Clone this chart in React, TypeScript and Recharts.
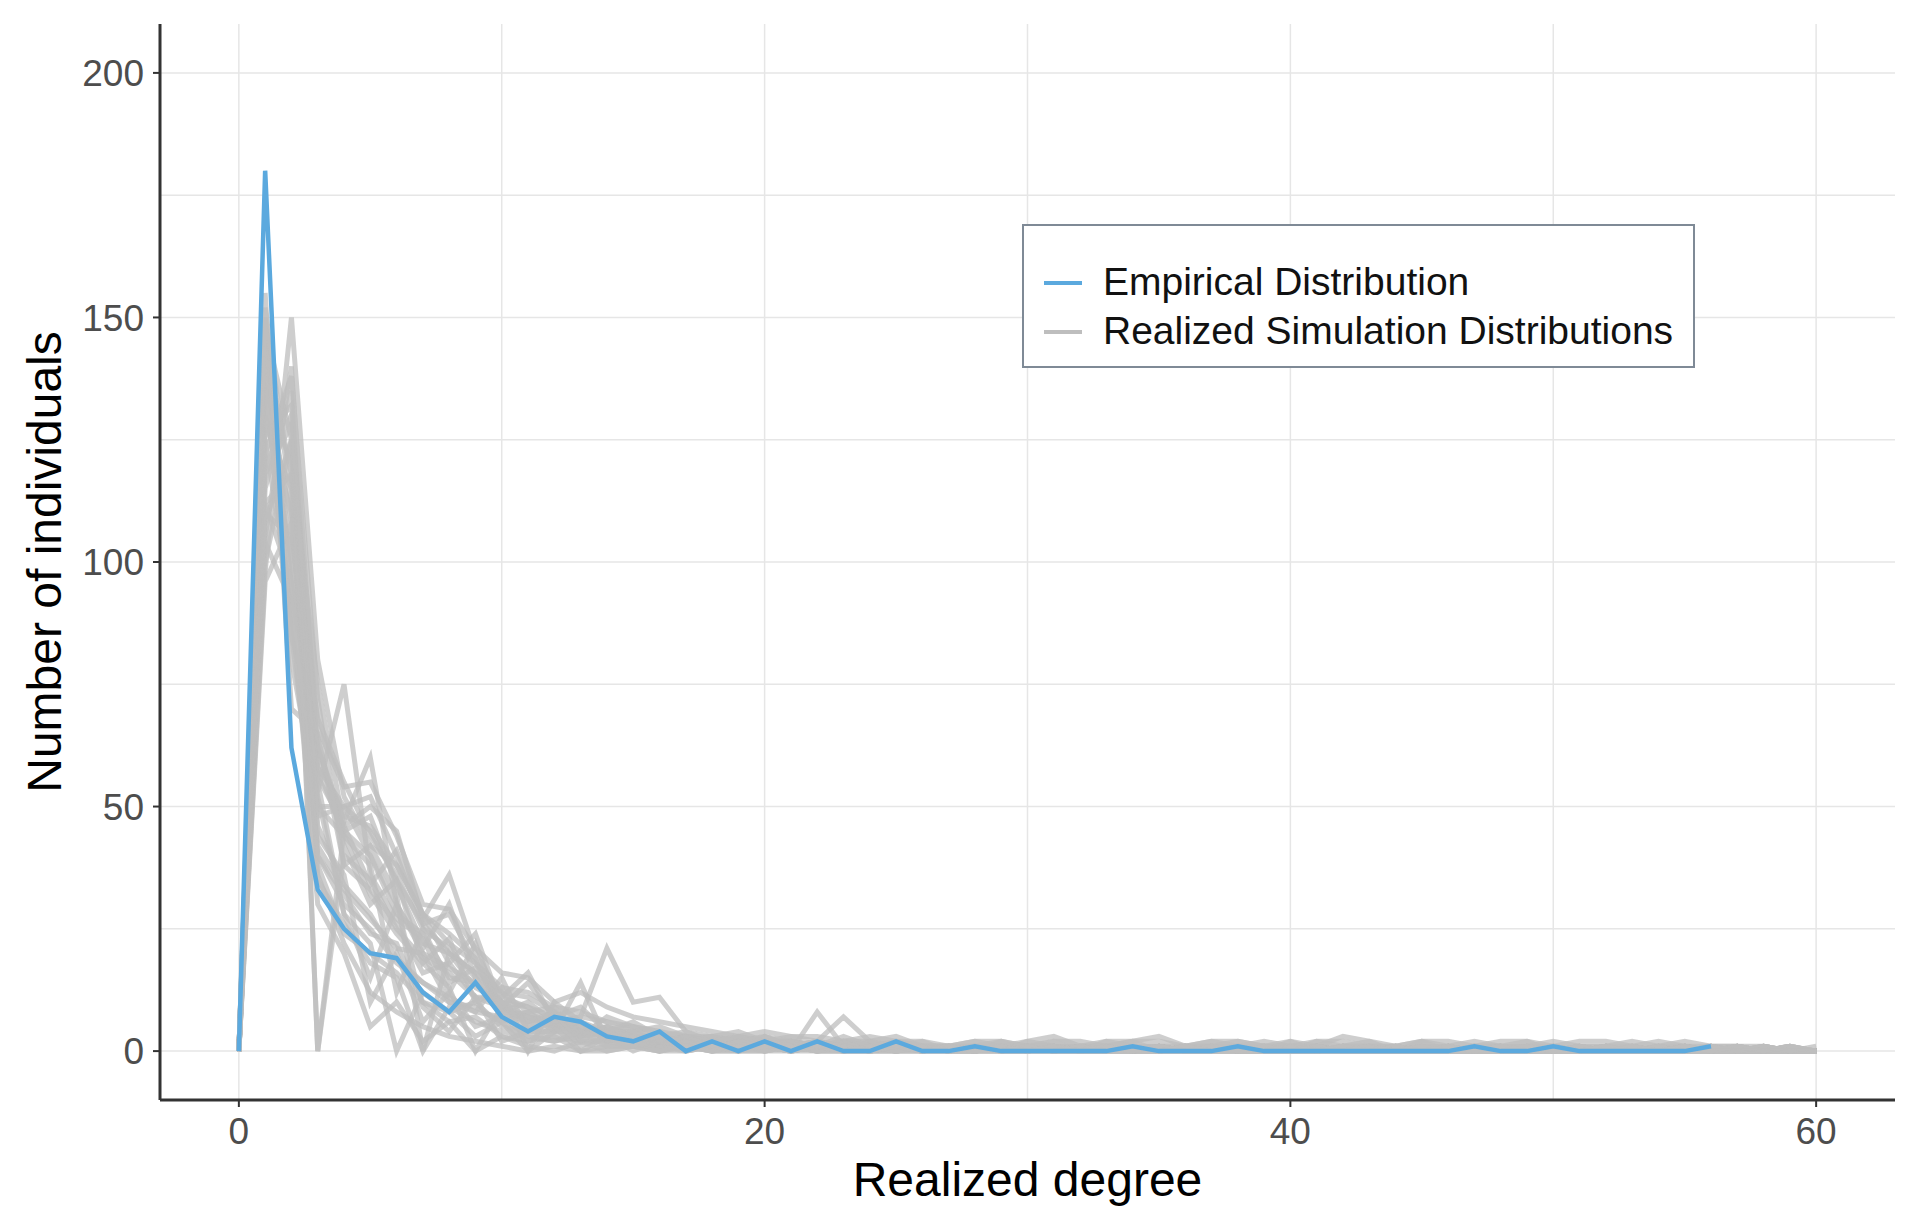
import {
  LineChart,
  Line,
  XAxis,
  YAxis,
  CartesianGrid,
} from 'recharts';

const FONT = '"Liberation Sans", Arial, Helvetica, sans-serif';
const BLUE = '#5BA9DE';
const GREY = '#BEBEBE';

// degree values 0..60
const DEGREES = Array.from({ length: 61 }, (_, i) => i);

const X_TICKS = [0, 20, 40, 60];
const Y_TICKS = [0, 50, 100, 150, 200];
const X_GRID = [0, 10, 20, 30, 40, 50, 60];
const Y_GRID = [0, 25, 50, 75, 100, 125, 150, 175, 200];

// observed degree distribution (ends at degree 56)
const EMPIRICAL = [
  0, 180, 62, 33, 25, 20, 19, 12, 8, 14,
  7, 4, 7, 6, 3, 2, 4, 0, 2, 0,
  2, 0, 2, 0, 0, 2, 0, 0, 1, 0,
  0, 0, 0, 0, 1, 0, 0, 0, 1, 0,
  0, 0, 0, 0, 0, 0, 0, 1, 0, 0,
  1, 0, 0, 0, 0, 0, 1,
];

// realized simulation distributions, degree 0..60
const SIM_01 = [0,150,95,58,50,40,30,20,17,14, 8,6,5,4,3,3,2,2,1,2, 1,1,2,1,0,1,1,0,1,0, 1,0,1,1,0,0,1,0,1,0, 0,1,0,0,1,0,0,0,1,0, 0,1,0,0,0,1,0,0,1,0,0];
const SIM_02 = [0,120,130,62,45,48,34,22,20,16, 10,7,6,5,4,2,3,1,2,2, 2,1,1,2,1,0,1,1,0,2, 0,1,0,1,1,0,0,1,0,1, 1,0,0,1,0,1,0,1,0,0, 1,0,0,1,0,0,1,0,0,1,0];
const SIM_03 = [0,105,140,60,48,46,38,28,24,19, 6,8,4,3,5,3,1,3,2,1, 1,2,1,0,2,1,0,1,1,0, 1,1,0,0,1,0,1,1,0,0, 1,0,1,0,0,1,0,0,1,1, 0,0,1,0,1,0,0,0,1,0,0];
const SIM_04 = [0,140,80,50,50,52,40,26,28,18, 9,6,7,4,4,4,2,2,3,1, 2,1,1,1,0,2,1,0,0,1, 1,0,1,0,1,1,0,0,1,0, 0,1,1,0,0,0,1,0,0,1, 0,1,0,0,1,0,0,1,0,0,0];
const SIM_05 = [0,130,110,40,30,25,18,14,11,8, 7,5,4,6,2,3,2,1,1,3, 0,2,1,1,1,0,1,1,1,0, 0,1,1,0,0,1,0,1,0,1, 0,0,1,1,0,0,0,1,0,0, 1,0,0,0,1,0,1,0,0,0,0];
const SIM_06 = [0,155,70,65,38,33,26,16,18,11, 11,9,5,5,3,2,3,2,1,2, 1,1,0,2,1,1,0,1,0,1, 1,0,0,1,0,1,1,0,0,1, 0,1,0,0,1,0,1,0,0,0, 1,0,1,0,0,0,0,1,0,0,0];
const SIM_07 = [0,100,125,0,45,40,28,24,15,14, 8,10,6,4,5,3,2,3,2,2, 2,0,2,1,1,1,1,0,1,1, 0,1,0,1,0,0,1,1,0,0, 1,0,1,0,0,1,0,0,1,0, 0,0,1,0,1,0,0,0,1,0,0];
const SIM_08 = [0,145,100,52,28,22,0,12,8,10, 5,4,3,2,2,1,1,0,1,1, 0,1,0,0,1,0,0,1,0,0, 1,0,0,0,1,0,0,0,1,0, 0,0,0,1,0,0,1,0,0,0, 0,1,0,0,0,0,1,0,0,0,0];
const SIM_09 = [0,115,135,48,50,45,35,26,20,16, 12,11,8,7,6,5,4,3,3,2, 3,2,1,2,1,2,1,1,0,1, 1,2,0,1,2,0,1,1,2,1, 0,2,1,1,0,2,0,1,1,2, 0,1,1,0,1,1,0,1,0,1,0];
const SIM_10 = [0,125,90,35,26,18,15,0,9,6, 4,3,2,3,1,2,1,1,0,0, 1,0,1,0,0,1,0,0,1,0, 0,0,1,0,0,0,1,0,0,0, 1,0,0,0,0,1,0,0,0,0, 0,0,0,1,0,0,0,0,0,1,0];
const SIM_11 = [0,135,120,58,44,32,24,18,13,0, 9,7,6,3,4,2,2,2,1,1, 2,1,0,1,2,0,1,0,0,1, 0,1,1,0,0,1,0,1,0,0, 0,1,0,0,1,0,0,1,0,0, 1,0,0,1,0,0,1,0,0,0,0];
const SIM_12 = [0,110,105,68,55,44,36,25,21,15, 7,8,5,6,3,4,3,2,2,1, 1,1,2,0,1,1,0,1,1,0, 1,0,1,1,0,0,0,1,0,1, 0,0,1,0,1,0,0,0,1,0, 0,1,0,0,0,1,0,0,0,0,0];
const SIM_13 = [0,150,85,42,33,27,21,20,10,9, 6,0,4,4,2,3,1,2,1,0, 1,0,1,1,0,0,1,0,0,1, 0,1,0,0,1,0,0,1,0,0, 1,0,0,1,0,0,0,0,1,0, 0,0,0,1,0,0,1,0,0,0,1];
const SIM_14 = [0,98,150,80,52,42,38,28,22,18, 13,12,9,8,6,4,5,3,2,3, 2,2,1,2,2,1,1,1,0,1, 1,0,1,1,0,1,0,1,1,0, 1,1,0,0,1,0,1,0,0,1, 0,1,0,1,0,0,0,1,0,0,0];
const SIM_15 = [0,128,115,38,24,20,16,10,6,7, 3,2,3,0,1,1,0,1,0,1, 0,1,0,0,0,1,0,0,0,1, 0,0,0,1,0,0,0,0,1,0, 0,0,1,0,0,0,0,1,0,0, 0,0,0,0,1,0,0,0,0,0,0];
const SIM_16 = [0,142,95,62,47,60,30,21,30,15, 10,9,7,5,4,3,3,2,2,2, 1,2,1,1,1,0,1,0,1,0, 0,1,0,0,1,1,0,0,0,1, 0,0,1,0,0,1,0,1,0,0, 1,0,0,0,0,1,0,0,1,0,0];
const SIM_17 = [0,118,128,0,40,35,25,19,16,11, 9,6,8,4,3,2,2,1,2,1, 1,0,1,1,0,1,1,0,1,0, 1,0,1,0,0,1,0,0,1,0, 0,1,0,0,0,0,1,0,0,1, 0,0,1,0,0,0,1,0,0,0,0];
const SIM_18 = [0,138,108,53,75,36,27,23,12,22, 8,7,5,6,4,5,2,3,1,2, 3,1,2,0,1,1,0,1,0,1, 1,1,0,0,1,0,1,0,0,1, 0,0,1,0,1,0,0,0,1,0, 1,0,0,1,0,0,0,0,1,0,0];
const SIM_19 = [0,108,125,46,34,28,19,14,10,8, 15,4,4,14,2,2,1,2,1,1, 2,0,8,1,0,1,0,0,1,0, 0,1,0,0,0,1,0,1,0,0, 1,0,0,1,0,0,0,1,0,0, 0,0,1,0,0,1,0,0,0,0,0];
const SIM_20 = [0,132,100,56,46,50,45,27,36,20, 11,16,6,7,21,10,11,4,3,4, 2,3,2,7,2,3,1,1,2,1, 2,3,1,2,2,3,1,2,2,1, 2,1,3,2,1,2,2,1,2,2, 1,2,2,1,2,1,1,1,0,1,0];
const SIM_21 = [0,112,118,36,22,12,8,5,3,2, 1,0,1,0,0,1,0,0,1,0, 0,0,1,0,0,0,0,1,0,0, 0,0,0,1,0,0,0,0,0,1, 0,0,0,0,0,0,1,0,0,0, 0,0,1,0,0,0,0,0,0,0,0];
const SIM_22 = [0,148,125,66,54,55,44,30,29,21, 16,15,10,12,9,7,6,5,4,3, 4,3,3,2,3,2,2,1,2,2, 1,2,2,1,2,2,1,2,1,2, 1,2,2,1,1,2,1,2,1,1, 2,1,1,2,1,2,1,1,1,0,0];
const SIM_23 = [0,104,92,30,20,5,10,2,6,0, 3,1,0,2,0,1,0,1,0,0, 1,0,0,1,0,0,1,0,0,0, 1,0,0,0,0,1,0,0,0,0, 0,1,0,0,0,0,0,0,1,0, 0,0,0,0,0,1,0,0,0,0,0];
const SIM_24 = [0,122,138,72,38,42,32,0,20,13, 10,5,8,2,5,3,2,3,1,1, 1,2,0,1,1,2,0,1,1,0, 2,1,0,1,1,0,1,0,1,1, 1,0,1,2,0,1,1,0,0,1, 0,1,0,0,1,0,0,1,0,0,0];
const SIM_25 = [0,152,112,50,44,38,12,25,14,17, 12,8,9,3,7,5,4,2,3,2, 2,1,2,1,0,1,1,1,0,1, 0,1,1,1,0,1,0,0,1,1, 0,1,0,1,1,0,0,1,1,0, 1,0,1,0,0,1,0,0,0,1,0];
const SIM_26 = [0,96,108,55,28,15,30,9,4,11, 2,4,6,1,3,0,2,1,0,2, 1,0,1,0,1,0,0,1,0,1, 0,0,1,0,0,1,0,0,1,0, 0,0,1,0,0,0,1,0,0,0, 1,0,0,0,0,0,1,0,0,0,0];
const SIM_27 = [0,136,85,64,42,30,35,18,23,10, 13,0,10,6,2,4,1,3,2,0, 3,1,1,2,0,1,1,0,1,1, 1,0,1,0,1,1,0,1,0,0, 1,1,0,0,1,0,1,0,1,0, 0,1,0,1,0,0,0,1,0,0,0];
const SIM_28 = [0,126,132,44,36,10,20,6,12,5, 7,3,2,4,1,1,2,0,1,0, 0,1,0,0,1,0,1,0,0,0, 1,0,0,1,0,0,0,1,0,0, 0,0,1,0,1,0,0,0,0,1, 0,0,1,0,0,0,0,0,1,0,0];
const SIM_29 = [0,144,118,75,46,34,41,28,18,24, 9,14,7,9,4,6,3,4,2,3, 2,2,1,3,1,1,2,0,1,2, 1,1,0,2,1,0,1,1,1,0, 2,0,1,1,0,1,1,0,1,1, 1,0,1,1,0,1,0,1,0,0,0];
const SIM_30 = [0,112,96,40,32,24,22,10,8,3, 6,2,5,0,3,2,0,2,0,1, 1,0,1,0,0,1,0,0,1,0, 0,1,0,0,0,0,1,0,0,0, 0,0,0,1,0,0,0,0,0,0, 1,0,0,0,0,0,0,0,0,0,0];

const SIMS = [
  SIM_01, SIM_02, SIM_03, SIM_04, SIM_05, SIM_06, SIM_07, SIM_08, SIM_09, SIM_10,
  SIM_11, SIM_12, SIM_13, SIM_14, SIM_15, SIM_16, SIM_17, SIM_18, SIM_19, SIM_20,
  SIM_21, SIM_22, SIM_23, SIM_24, SIM_25, SIM_26, SIM_27, SIM_28, SIM_29, SIM_30,
];

const rows = DEGREES.map((deg, i) => {
  const row: Record<string, number | undefined> = { deg, emp: EMPIRICAL[i] };
  SIMS.forEach((s, k) => {
    row[`sim${k}`] = s[i];
  });
  return row;
});

const tickStyle = { fontSize: 37, fill: '#4D4D4D', fontFamily: FONT };
const titleStyle = { fontSize: 48, fill: '#000', fontFamily: FONT };

function LegendBox() {
  const items = [
    { label: 'Empirical Distribution', color: BLUE, top: 59 },
    { label: 'Realized Simulation Distributions', color: GREY, top: 108 },
  ];
  return (
    <div
      style={{
        position: 'absolute',
        left: 1022,
        top: 224,
        width: 673,
        height: 144,
        boxSizing: 'border-box',
        border: '2px solid #7F8A96',
        background: '#fff',
        fontFamily: FONT,
      }}
    >
      {items.map((it) => (
        <div key={it.label}>
          <div
            style={{
              position: 'absolute',
              left: 20,
              top: it.top - 4,
              width: 38,
              height: 4,
              background: it.color,
            }}
          />
          <div
            style={{
              position: 'absolute',
              left: 79,
              top: it.top - 26,
              fontSize: 39,
              lineHeight: '46px',
              color: '#111',
              whiteSpace: 'nowrap',
            }}
          >
            {it.label}
          </div>
        </div>
      ))}
    </div>
  );
}

export default function App() {
  return (
    <div
      style={{
        position: 'absolute',
        left: 0,
        top: 0,
        width: 1913,
        height: 1220,
        background: '#fff',
      }}
    >
      <LineChart
        width={1913}
        height={1220}
        data={rows}
        margin={{ top: 24, right: 18, left: 0, bottom: 0 }}
      >
        <CartesianGrid
          stroke="#E6E6E6"
          strokeWidth={1.5}
          horizontalValues={Y_GRID}
          verticalValues={X_GRID}
        />
        <XAxis
          dataKey="deg"
          type="number"
          domain={[-3, 63]}
          ticks={X_TICKS}
          height={120}
          tick={tickStyle}
          tickSize={7}
          tickMargin={11}
          axisLine={{ stroke: '#333', strokeWidth: 3 }}
          tickLine={{ stroke: '#333', strokeWidth: 2 }}
          label={{
            value: 'Realized degree',
            position: 'insideBottom',
            offset: 24,
            style: titleStyle,
          }}
        />
        <YAxis
          type="number"
          domain={[-10, 210]}
          ticks={Y_TICKS}
          width={160}
          tick={tickStyle}
          tickSize={7}
          tickMargin={9}
          axisLine={{ stroke: '#333', strokeWidth: 3 }}
          tickLine={{ stroke: '#333', strokeWidth: 2 }}
          label={{
            value: 'Number of individuals',
            angle: -90,
            position: 'insideLeft',
            offset: 44,
            textAnchor: 'middle',
            style: { ...titleStyle, textAnchor: 'middle' },
          }}
        />
        {SIMS.map((_, k) => (
          <Line
            key={k}
            type="linear"
            dataKey={`sim${k}`}
            stroke={GREY}
            strokeOpacity={0.75}
            strokeWidth={5}
            dot={false}
            activeDot={false}
            isAnimationActive={false}
          />
        ))}
        <Line
          type="linear"
          dataKey="emp"
          stroke={BLUE}
          strokeWidth={4.5}
          dot={false}
          activeDot={false}
          isAnimationActive={false}
        />
      </LineChart>
      <LegendBox />
    </div>
  );
}
